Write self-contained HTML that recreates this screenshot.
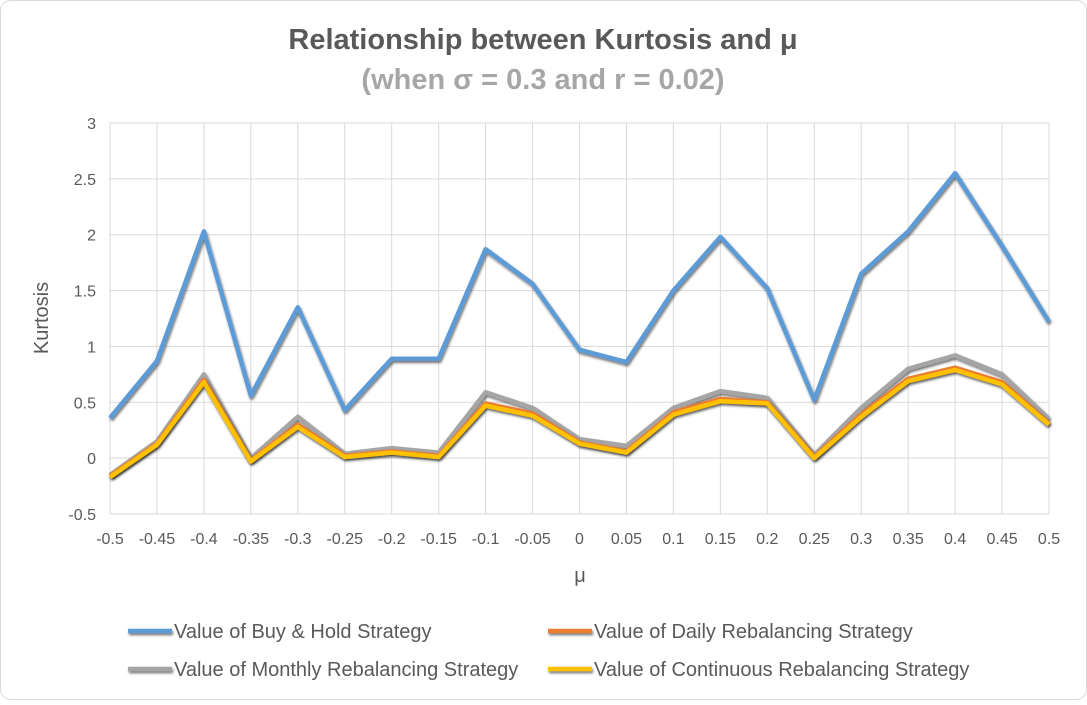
<!DOCTYPE html>
<html><head><meta charset="utf-8"><style>
body{margin:0;background:#fff;}
svg{font-family:"Liberation Sans",sans-serif;}
</style></head><body>
<svg width="1087" height="700" viewBox="0 0 1087 700">
<defs><filter id="sh" x="-5%" y="-5%" width="110%" height="120%"><feDropShadow dx="1" dy="2" stdDeviation="1.2" flood-color="#000" flood-opacity="0.55"/></filter>
<filter id="sh2" x="-10%" y="-100%" width="120%" height="400%"><feDropShadow dx="1" dy="2" stdDeviation="1.2" flood-color="#000" flood-opacity="0.55"/></filter></defs>
<rect x="0.5" y="0.5" width="1086" height="699" rx="10" fill="#fff" stroke="#d9d9d9"/>
<text x="543" y="49" text-anchor="middle" font-size="29" font-weight="bold" fill="#595959">Relationship between Kurtosis and μ</text>
<text x="543" y="89" text-anchor="middle" font-size="29" font-weight="bold" fill="#a6a6a6">(when σ = 0.3 and r = 0.02)</text>
<g id="grid"></g><g id="series"></g>
<text x="48" y="318" text-anchor="middle" font-size="20" fill="#595959" transform="rotate(-90 48 318)">Kurtosis</text>
<text x="580" y="582" text-anchor="middle" font-size="20" fill="#595959">μ</text>
<g id="legend"></g>
</svg>
<script>
const xCats=["-0.5","-0.45","-0.4","-0.35","-0.3","-0.25","-0.2","-0.15","-0.1","-0.05","0","0.05","0.1","0.15","0.2","0.25","0.3","0.35","0.4","0.45","0.5"];
const yTicks=[-0.5,0,0.5,1,1.5,2,2.5,3];
const buyHold=[0.36,0.87,2.03,0.56,1.35,0.43,0.89,0.89,1.87,1.56,0.97,0.86,1.5,1.98,1.52,0.52,1.65,2.03,2.55,1.9,1.22];
const monthly=[-0.15,0.15,0.75,0.0,0.37,0.04,0.09,0.05,0.59,0.45,0.17,0.11,0.45,0.6,0.54,0.03,0.45,0.8,0.92,0.75,0.35];
const daily=[-0.16,0.13,0.7,-0.02,0.3,0.02,0.06,0.02,0.49,0.4,0.14,0.06,0.41,0.53,0.5,0.01,0.39,0.71,0.81,0.68,0.31];
const continuous=[-0.17,0.12,0.68,-0.03,0.28,0.01,0.05,0.01,0.47,0.38,0.13,0.05,0.39,0.51,0.49,0.0,0.37,0.69,0.79,0.66,0.3];
const NS="http://www.w3.org/2000/svg";
const x0=110,x1=1049,yTop=123,yBot=514;
const xs=i=>x0+(x1-x0)*i/(xCats.length-1);
const ys=v=>yBot-(v+0.5)/3.5*(yBot-yTop);
function mk(t,a,p){const e=document.createElementNS(NS,t);for(const k in a)e.setAttribute(k,a[k]);p.appendChild(e);return e;}
const g=document.getElementById('grid');
yTicks.forEach(v=>{
 const l=mk('line',{x1:x0,x2:x1,y1:ys(v),y2:ys(v),stroke:'#d9d9d9'},g);
 
 
 const t=mk('text',{x:x0-14,y:ys(v)+6,'text-anchor':'end','font-size':16,fill:'#595959'},g);t.textContent=v;
 
 
});
xCats.forEach((c,i)=>{
 const l=mk('line',{x1:xs(i),x2:xs(i),y1:yTop,y2:yBot,stroke:'#d9d9d9'},g);
 
 
 const t=mk('text',{x:xs(i),y:544,'text-anchor':'middle','font-size':16,fill:'#595959'},g);t.textContent=c;
 
 
});
const s=document.getElementById('series');
[[buyHold,'#5b9bd5','buy-hold-line'],[monthly,'#a5a5a5','monthly-line'],[daily,'#ed7d31','daily-line'],[continuous,'#ffc000','continuous-line']].forEach(([d,c,n])=>{
 const p=mk('polyline',{points:d.map((v,i)=>xs(i)+','+ys(v)).join(' '),fill:'none',stroke:c,'stroke-width':4.5,'stroke-linejoin':'round',filter:'url(#sh)'},s);
 
 
});
const lg=document.getElementById('legend');
[['Value of Buy & Hold Strategy','#5b9bd5',128,631],['Value of Daily Rebalancing Strategy','#ed7d31',548,631],['Value of Monthly Rebalancing Strategy','#a5a5a5',128,669],['Value of Continuous Rebalancing Strategy','#ffc000',548,669]].forEach(([t,c,x,y])=>{
 const l=mk('rect',{x:x,y:y-2.25,width:44,height:4.5,fill:c,filter:'url(#sh2)'},lg);
 
 
 const e=mk('text',{x:x+46,y:y+7,'font-size':20,fill:'#595959'},lg);e.textContent=t;
 
 
});
</script>
</body></html>
